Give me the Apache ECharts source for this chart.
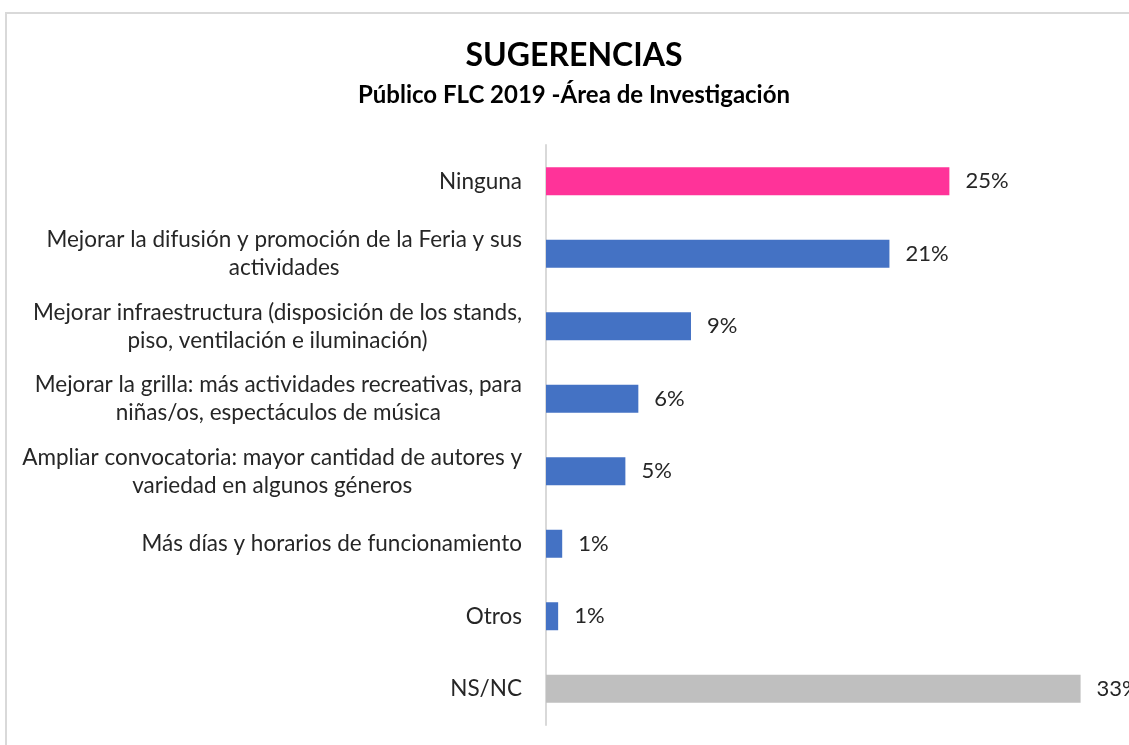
<!DOCTYPE html>
<html>
<head>
<meta charset="utf-8">
<script src="https://cdn.jsdelivr.net/npm/echarts@6/dist/echarts.min.js"></script>
<style>
  html, body { margin: 0; padding: 0; background: #fff; }
  #chart { width: 1129px; height: 745px; }
</style>
</head>
<body>
<div id="chart"></div>
<script>
  // categorias, de arriba hacia abajo
  const categorias = [
    'Ninguna',
    'Mejorar la difusión y promoción de la Feria y sus\nactividades',
    'Mejorar infraestructura (disposición de los stands,\npiso, ventilación e iluminación)',
    'Mejorar la grilla: más actividades recreativas, para\nniñas/os, espectáculos de música',
    'Ampliar convocatoria: mayor cantidad de autores y\nvariedad en algunos géneros',
    'Más días y horarios de funcionamiento',
    'Otros',
    'NS/NC'
  ];
  // porcentajes
  const valores = [24.9, 21.2, 8.95, 5.7, 4.9, 1.0, 0.75, 33.0];
  const colores = ['#FF3399', '#4472C4', '#4472C4', '#4472C4', '#4472C4', '#4472C4', '#4472C4', '#BFBFBF'];

  const fuente = 'Lato, "Open Sans", sans-serif';
  const textoColor = '#262626';

  let chart = echarts.init(document.getElementById('chart'));
  chart.setOption({
    backgroundColor: '#ffffff',
    animation: false,
    title: [
      {
        text: 'SUGERENCIAS',
        left: 574,
        top: 40,
        padding: 0,
        textAlign: 'center',
        textStyle: { fontFamily: fuente, fontWeight: 'bold', fontSize: 32, color: '#000' }
      },
      {
        text: 'Público FLC 2019 -Área de Investigación',
        left: 574,
        top: 83,
        padding: 0,
        textAlign: 'center',
        textStyle: { fontFamily: fuente, fontWeight: 'bold', fontSize: 24, color: '#000' }
      }
    ],
    // marco del grafico
    graphic: [{
      type: 'rect',
      shape: { x: 6, y: 13, width: 1200, height: 800 },
      style: { fill: 'none', stroke: '#d9d9d9', lineWidth: 2 },
      silent: true
    }],
    grid: { left: 546, right: 16, top: 145, bottom: 20, containLabel: false },
    xAxis: {
      type: 'value',
      min: 0,
      max: 35,
      show: false,
      splitLine: { show: false }
    },
    yAxis: {
      type: 'category',
      inverse: true,
      data: categorias,
      axisTick: { show: false },
      axisLine: { show: true, lineStyle: { color: '#d9d9d9', width: 2 } },
      axisLabel: {
        margin: 24,
        formatter: function (v) {
          return v.split('\n').map(function (l) { return '{c|' + l + '}'; }).join('\n');
        },
        rich: {
          c: { align: 'center', fontFamily: fuente, fontSize: 22.5, lineHeight: 28, color: textoColor }
        }
      }
    },
    series: [{
      type: 'bar',
      data: valores,
      barWidth: 28,
      itemStyle: {
        color: function (p) { return colores[p.dataIndex]; }
      },
      label: {
        show: true,
        position: 'right',
        distance: 16,
        fontFamily: fuente,
        fontSize: 22,
        color: textoColor,
        formatter: function (p) { return Math.round(p.value) + '%'; }
      }
    }]
  });
</script>
</body>
</html>
